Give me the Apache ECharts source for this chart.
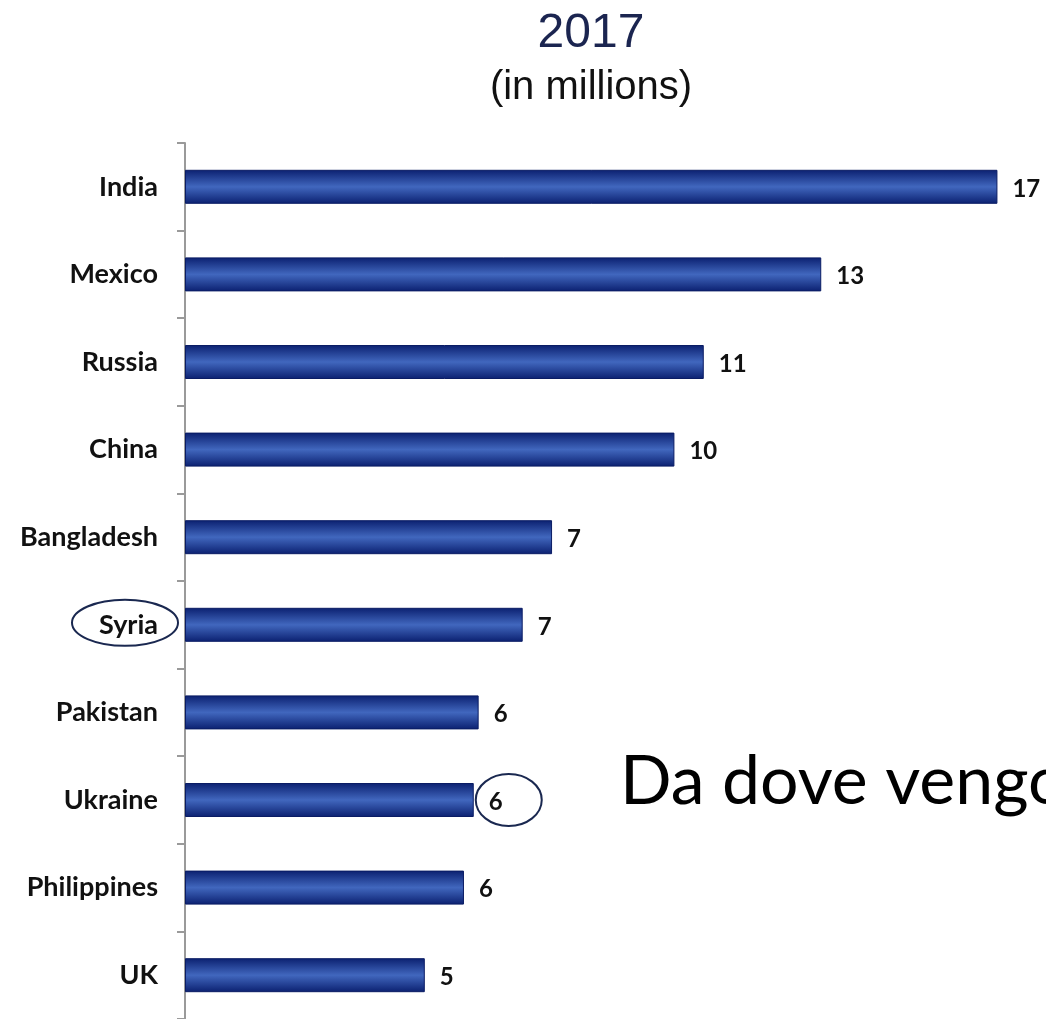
<!DOCTYPE html>
<html>
<head>
<meta charset="utf-8">
<script src="https://cdn.jsdelivr.net/npm/echarts@6/dist/echarts.min.js"></script>
<style>
html,body{margin:0;padding:0;background:#fff;}
#chart{width:1046px;height:1019px;}
</style>
</head>
<body>
<div id="chart"></div>
<script>
const categories = ['India','Mexico','Russia','China','Bangladesh','Syria','Pakistan','Ukraine','Philippines','UK'];
const values = [16.6, 13.0, 10.6, 10.0, 7.5, 6.9, 6.0, 5.9, 5.7, 4.9];
const valueLabels = ['17','13','11','10','7','7','6','6','6','5'];
const titleText = '2017';
const subtitleText = '(in millions)';
const sideText = 'Da dove vengono';
const circledCategory = 'Syria';
const circledValueCategory = 'Ukraine';

const chart = echarts.init(document.getElementById('chart'));
const gridLeft = 185, gridTop = 143;
const option = {
  animation: false,
  backgroundColor: '#ffffff',
  grid: { left: gridLeft, top: gridTop, width: 832, height: 877 },
  xAxis: { type: 'value', min: 0, max: 17, show: false },
  yAxis: {
    type: 'category', data: categories, inverse: true,
    axisLine: { show: true, lineStyle: { color: '#9a9a9a', width: 2 } },
    axisTick: { show: true, length: 8, lineStyle: { color: '#9a9a9a', width: 2 } },
    axisLabel: { margin: 27, fontFamily: 'Lato', fontWeight: 'bold', fontSize: 27, color: '#111' },
    splitLine: { show: false }
  },
  series: [{
    type: 'bar', data: values, barWidth: 34,
    itemStyle: {
      color: new echarts.graphic.LinearGradient(0, 0, 0, 1, [
        { offset: 0, color: '#0b2070' },
        { offset: 0.5, color: '#4167be' },
        { offset: 1, color: '#0b2070' }
      ]),
      borderColor: '#0a1c64', borderWidth: 1
    },
    label: {
      show: true, position: 'right', distance: 15, offset: [0, 2],
      formatter: p => valueLabels[p.dataIndex],
      fontFamily: 'Lato', fontWeight: 'bold', fontSize: 24, color: '#111'
    }
  }]
};
chart.setOption(option);

const sy = chart.convertToPixel({ gridIndex: 0 }, [0, circledCategory]);
const ci = categories.indexOf(circledValueCategory);
const uk = chart.convertToPixel({ gridIndex: 0 }, [values[ci], circledValueCategory]);

chart.setOption({
  graphic: [
    { type: 'text', style: { text: titleText, x: 591, y: 10, textAlign: 'center', textVerticalAlign: 'top', font: '48px "Liberation Sans"', fill: '#1b2550' } },
    { type: 'text', style: { text: subtitleText, x: 591, y: 68, textAlign: 'center', textVerticalAlign: 'top', font: '40px "Liberation Sans"', fill: '#111' } },
    { type: 'ellipse', shape: { cx: gridLeft - 60, cy: sy[1] - 2, rx: 53, ry: 23 }, style: { fill: null, stroke: '#1a2850', lineWidth: 2 } },
    { type: 'ellipse', shape: { cx: uk[0] + 35, cy: uk[1], rx: 33, ry: 26 }, style: { fill: null, stroke: '#1a2850', lineWidth: 2 } },
    { type: 'text', style: { text: sideText, x: 620, y: 748, textVerticalAlign: 'top', font: '68px Lato', fill: '#000' } }
  ]
});
</script>
</body>
</html>
